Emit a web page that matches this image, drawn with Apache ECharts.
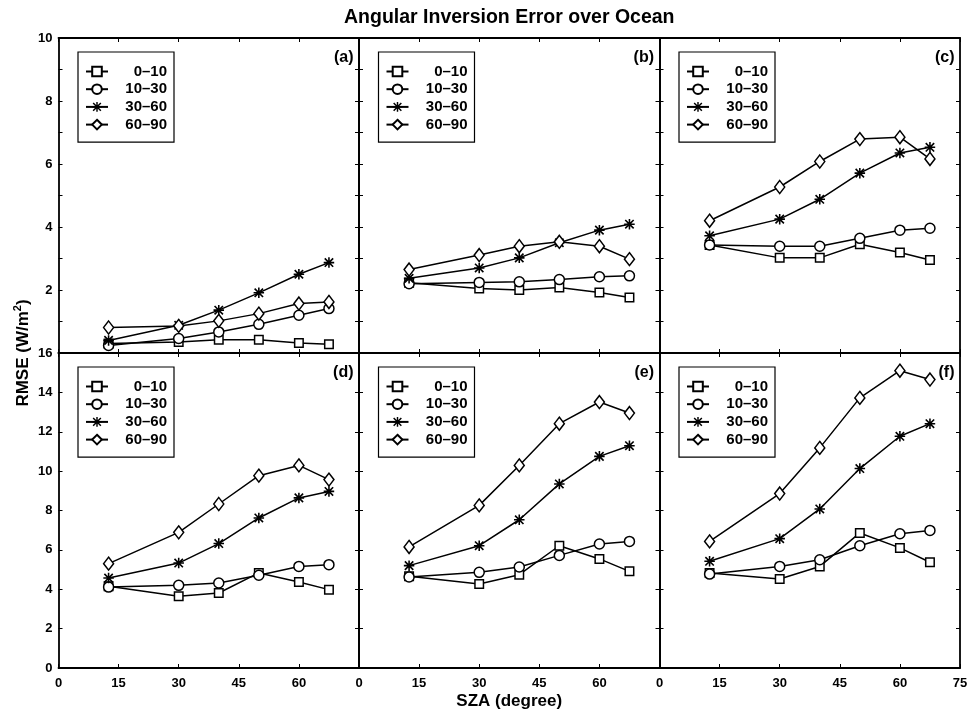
<!DOCTYPE html>
<html><head><meta charset="utf-8">
<script src="https://cdn.jsdelivr.net/npm/echarts@6/dist/echarts.min.js"></script>
<style>html,body{margin:0;padding:0;background:#fff}#c{width:971px;height:715px}</style>
</head><body><div id="c"></div>
<script>
// ---- data ----
const sza = [12.5, 30, 40, 50, 60, 67.5];
const seriesNames = ['0–10', '10–30', '30–60', '60–90'];
const panelLabels = ['(a)', '(b)', '(c)', '(d)', '(e)', '(f)'];
const xTickLabels = [0, 15, 30, 45, 60, 75];
const yTickLabelsTop = [2, 4, 6, 8, 10];
const yTickLabelsBottom = [0, 2, 4, 6, 8, 10, 12, 14, 16];

// (a)
const a_0_10  = [0.30, 0.35, 0.42, 0.42, 0.32, 0.28];
const a_10_30 = [0.24, 0.46, 0.67, 0.91, 1.20, 1.41];
const a_30_60 = [0.40, 0.88, 1.36, 1.91, 2.50, 2.87];
const a_60_90 = [0.81, 0.86, 1.02, 1.25, 1.57, 1.62];
// (b)
const b_0_10  = [2.23, 2.05, 2.00, 2.08, 1.92, 1.76];
const b_10_30 = [2.20, 2.24, 2.26, 2.33, 2.42, 2.45];
const b_30_60 = [2.37, 2.70, 3.02, 3.50, 3.90, 4.09];
const b_60_90 = [2.65, 3.11, 3.39, 3.53, 3.39, 2.98];
// (c)
const c_0_10  = [3.43, 3.02, 3.02, 3.45, 3.19, 2.95];
const c_10_30 = [3.43, 3.39, 3.39, 3.64, 3.90, 3.96];
const c_30_60 = [3.72, 4.25, 4.88, 5.71, 6.35, 6.53];
const c_60_90 = [4.20, 5.27, 6.08, 6.79, 6.85, 6.16];
// (d)
const d_0_10  = [4.15, 3.64, 3.81, 4.83, 4.37, 3.98];
const d_10_30 = [4.11, 4.20, 4.32, 4.71, 5.16, 5.25];
const d_30_60 = [4.57, 5.33, 6.32, 7.62, 8.64, 8.97];
const d_60_90 = [5.30, 6.89, 8.33, 9.77, 10.29, 9.57];
// (e)
const e_0_10  = [4.66, 4.27, 4.74, 6.21, 5.54, 4.91];
const e_10_30 = [4.62, 4.86, 5.13, 5.72, 6.30, 6.43];
const e_30_60 = [5.20, 6.21, 7.53, 9.35, 10.75, 11.29];
const e_60_90 = [6.15, 8.26, 10.29, 12.41, 13.51, 12.95];
// (f)
const f_0_10  = [4.83, 4.52, 5.16, 6.86, 6.10, 5.37];
const f_10_30 = [4.77, 5.16, 5.50, 6.21, 6.82, 6.99];
const f_30_60 = [5.42, 6.57, 8.08, 10.13, 11.77, 12.41];
const f_60_90 = [6.43, 8.86, 11.18, 13.72, 15.10, 14.65];

const panels = [
  [a_0_10, a_10_30, a_30_60, a_60_90],
  [b_0_10, b_10_30, b_30_60, b_60_90],
  [c_0_10, c_10_30, c_30_60, c_60_90],
  [d_0_10, d_10_30, d_30_60, d_60_90],
  [e_0_10, e_10_30, e_30_60, e_60_90],
  [f_0_10, f_10_30, f_30_60, f_60_90]
];

// ---- styling / layout ----
const FONT = '"Liberation Sans", Arial, Helvetica, sans-serif';
const L = 58.5, W = 300.5, T = 38, H = 315;
const asterisk = 'path://M0 8.5H20V11.5H0Z M8.5 0H11.5V20H8.5Z M3.1 0.9L19.1 16.9L16.9 19.1L0.9 3.1Z M16.9 0.9L19.1 3.1L3.1 19.1L0.9 16.9Z';
const symbolDefs = [
  { symbol: 'rect', size: 8.5, fill: '#fff' },
  { symbol: 'circle', size: 10, fill: '#fff' },
  { symbol: asterisk, size: 10.5, fill: '#000' },
  { symbol: 'diamond', size: [10, 13], fill: '#fff' }
];

const grid = [], xAxis = [], yAxis = [], series = [], legend = [], graphic = [];
const axisLine = { show: true, onZero: false, lineStyle: { color: '#000', width: 1.8 } };
const axisTick = { show: true, inside: true, length: 4, lineStyle: { color: '#000', width: 1 } };
const labelStyle = { color: '#000', fontSize: 13, fontWeight: 'bold', fontFamily: FONT };

for (let i = 0; i < 6; i++) {
  const row = Math.floor(i / 3), col = i % 3;
  const left = L + col * W, top = T + row * H;
  grid.push({ left: left, top: top, width: W, height: H });
  const ymax = row === 0 ? 10 : 16;
  const yint = row === 0 ? 1 : 2;
  const yLabels = row === 0 ? yTickLabelsTop : yTickLabelsBottom;
  xAxis.push({
    type: 'value', gridIndex: i, position: 'bottom', min: 0, max: 75, interval: 15,
    axisLine: axisLine, axisTick: axisTick, splitLine: { show: false },
    axisLabel: Object.assign({ show: row === 1, margin: 9,
      formatter: v => (xTickLabels.includes(v) && !(col < 2 && v === 75)) ? String(v) : '' }, labelStyle)
  });
  xAxis.push({
    type: 'value', gridIndex: i, position: 'top', min: 0, max: 75, interval: 15,
    axisLine: axisLine, axisTick: axisTick, splitLine: { show: false }, axisLabel: { show: false }
  });
  yAxis.push({
    type: 'value', gridIndex: i, position: 'left', min: 0, max: ymax, interval: yint,
    axisLine: axisLine, axisTick: axisTick, splitLine: { show: false },
    axisLabel: Object.assign({ show: col === 0, margin: 6,
      formatter: v => yLabels.includes(v) ? String(v) : '' }, labelStyle)
  });
  yAxis.push({
    type: 'value', gridIndex: i, position: 'right', min: 0, max: ymax, interval: yint,
    axisLine: axisLine, axisTick: axisTick, splitLine: { show: false }, axisLabel: { show: false }
  });

  panels[i].forEach((vals, k) => {
    const sd = symbolDefs[k];
    series.push({
      type: 'line', name: seriesNames[k], xAxisIndex: 2 * i, yAxisIndex: 2 * i,
      data: sza.map((x, j) => [x, vals[j]]),
      symbol: sd.symbol, symbolSize: sd.size, showSymbol: true,
      lineStyle: { color: '#000', width: 1.5 },
      itemStyle: { color: sd.fill, borderColor: '#000', borderWidth: k === 2 ? 0 : 1.5 },
      emphasis: { disabled: true }, animation: false, clip: false
    });
  });

  legend.push({
    data: seriesNames, orient: 'vertical', left: left + 19.5, top: top + 14,
    itemWidth: 22, itemHeight: 12, itemGap: 2.7, padding: [12, 7, 10, 7],
    backgroundColor: '#fff', borderColor: '#000', borderWidth: 1.2, selectedMode: false,
    formatter: n => '{r|' + n + '}',
    textStyle: { color: '#000', fontSize: 15, fontWeight: 'bold', fontFamily: FONT,
      rich: { r: { width: 54, align: 'right', fontSize: 15, lineHeight: 12, height: 12, fontWeight: 'bold', fontFamily: FONT, color: '#000' } } }
  });

  graphic.push({
    type: 'text', x: left + W - 5.5, y: top + 19.5, z: 10,
    style: { text: panelLabels[i], align: 'right', verticalAlign: 'middle', fill: '#000',
      font: 'bold 16px ' + FONT }
  });
}

graphic.push({
  type: 'text', x: (L + L + 3 * W) / 2, y: 18,
  style: { text: 'Angular Inversion Error over Ocean', align: 'center', verticalAlign: 'middle',
    fill: '#000', font: 'bold 19.5px ' + FONT }
});
graphic.push({
  type: 'text', x: (L + L + 3 * W) / 2, y: 701,
  style: { text: 'SZA (degree)', align: 'center', verticalAlign: 'middle',
    fill: '#000', font: 'bold 17px ' + FONT }
});
graphic.push({
  type: 'text', x: 22, y: T + H, rotation: Math.PI / 2,
  style: { text: '{a|RMSE (W/m}{s|2}{a|)}', align: 'center', verticalAlign: 'middle', fill: '#000',
    rich: {
      a: { font: 'bold 17px ' + FONT, fill: '#000', verticalAlign: 'bottom', lineHeight: 20 },
      s: { font: 'bold 11px ' + FONT, fill: '#000', verticalAlign: 'top', lineHeight: 20 }
    } }
});

const chart = echarts.init(document.getElementById('c'), null, { renderer: 'canvas' });
chart.setOption({
  animation: false, backgroundColor: '#fff',
  grid: grid, xAxis: xAxis, yAxis: yAxis, series: series, legend: legend, graphic: graphic
});
</script>
</body></html>
